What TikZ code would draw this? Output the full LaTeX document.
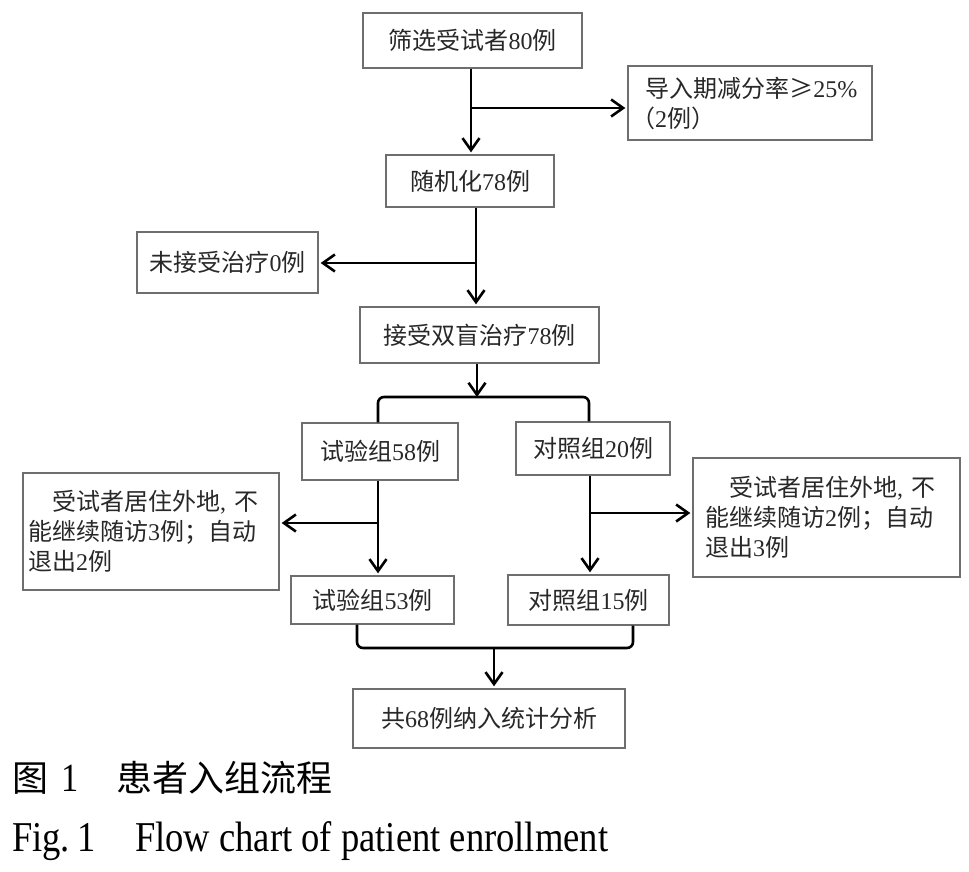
\documentclass[tikz,border=0pt]{standalone}
\usepackage{fontspec}
\setmainfont{Noto Sans CJK SC}
\newfontfamily\lat{Liberation Serif}
\newfontfamily\capfont[FakeStretch=0.86]{Liberation Serif}
\newcommand\D[1]{{\lat #1}}
\usetikzlibrary{arrows.meta,calc}
\definecolor{boxgray}{RGB}{110,110,110}
\definecolor{txt}{RGB}{40,40,40}
\begin{document}
\begin{tikzpicture}[x=1pt,y=-1pt,
  box/.style={draw=boxgray, line width=1.3pt, text=txt, font=\fontsize{24}{30}\selectfont, inner sep=0pt, align=center},
  wbox/.style={box, align=left},
  ln/.style={line width=2.6pt, rounded corners=6pt},
  arr/.style={line width=2.6pt, -{Straight Barb[length=12pt,width=17pt]}, shorten >=2pt}]
\useasboundingbox[fill=white] (0,0) rectangle (969,872);

% boxes
\node[box, minimum width=219pt, minimum height=55pt] (b1) at (472.5,40.5) {筛选受试者\D{80}例};
\node[wbox, text width=238pt, inner xsep=3pt, minimum height=74pt] (b2) at (750,103) {\hspace*{0.6em}导入期减分率≥\D{25\%}\\（\D{2}例）};
\node[box, minimum width=168pt, minimum height=52pt] (b3) at (470,181) {随机化\D{78}例};
\node[box, minimum width=181pt, minimum height=61pt] (b4) at (227.5,262.5) {未接受治疗\D{0}例};
\node[box, minimum width=239pt, minimum height=56pt] (b5) at (479.5,335) {接受双盲治疗\D{78}例};
\node[box, minimum width=156pt, minimum height=57pt] (b6) at (380,451.5) {试验组\D{58}例};
\node[box, minimum width=154pt, minimum height=53pt] (b7) at (593,448.5) {对照组\D{20}例};
\node[wbox, text width=246pt, inner xsep=5pt, minimum height=117pt] (b8) at (151,531.5) {\hspace*{1em}受试者居住外地\D{, }不\\能继续随访\D{3}例；自动\\退出\D{2}例};
\node[wbox, text width=243pt, inner xsep=12pt, minimum height=119pt] (b9) at (826.5,517.5) {\hspace*{1em}受试者居住外地\D{, }不\\能继续随访\D{2}例；自动\\退出\D{3}例};
\node[box, minimum width=163pt, minimum height=48pt] (b10) at (372.5,600) {试验组\D{53}例};
\node[box, minimum width=161pt, minimum height=50pt] (b11) at (588.5,600) {对照组\D{15}例};
\node[box, minimum width=272pt, minimum height=59pt] (b12) at (489,718.5) {共\D{68}例纳入统计分析};

% junctions
\coordinate (j1) at (471,108);
\coordinate (j2) at (476,263);
\coordinate (j3) at (477,397);
\coordinate (l6) at (378,0);
\coordinate (l7) at (589,0);
\coordinate (j4) at (378,523);
\coordinate (j5) at (590,513);
\coordinate (j6) at (494,648);
\coordinate (l10) at (357,0);
\coordinate (l11) at (633,0);

% connectors
\draw[arr] (b1.south -| j1) -- (b3.north -| j1);
\draw[arr] (j1) -- (j1 -| b2.west);
\draw[arr] (b3.south -| j2) -- (b5.north -| j2);
\draw[arr] (j2) -- (j2 -| b4.east);
\draw[arr, shorten >=0pt] (b5.south -| j3) -- (j3);
\draw[ln] (b6.north -| l6) |- (j3) -| (b7.north -| l7);
\draw[arr] (b6.south -| j4) -- (b10.north -| j4);
\draw[arr] (j4) -- (j4 -| b8.east);
\draw[arr] (b7.south -| j5) -- (b11.north -| j5);
\draw[arr] (j5) -- (j5 -| b9.west);
\draw[ln] (b10.south -| l10) |- (j6) -| (b11.south -| l11);
\draw[arr] (j6) -- (b12.north -| j6);

% caption
\node[anchor=west, inner sep=0pt, font=\fontsize{36}{36}\selectfont] (cap1) at (12,778) {\makebox[49pt][l]{图}\makebox[55pt][l]{\capfont\fontsize{40}{40}\selectfont 1}患者入组流程};
\node[anchor=base west, inner sep=0pt, font=\capfont\fontsize{42.5}{42.5}\selectfont] (cap2) at (12,851) {\makebox[123pt][l]{Fig.\,1}Flow chart of patient enrollment};
\end{tikzpicture}
\end{document}
